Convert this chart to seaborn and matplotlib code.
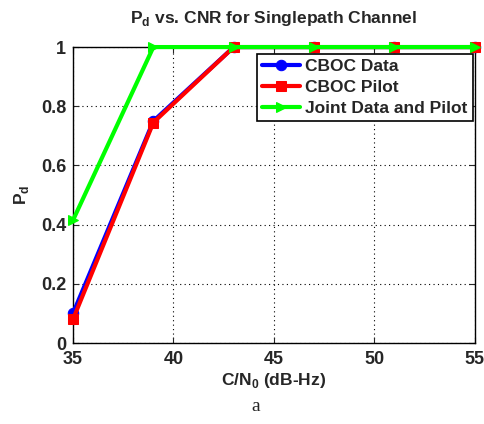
import matplotlib
matplotlib.use("Agg")
import matplotlib.pyplot as plt
import seaborn as sns
import pandas as pd

cnr = [35, 39, 43, 47, 51, 55]
cboc_data = [0.10, 0.75, 1.0, 1.0, 1.0, 1.0]
cboc_pilot = [0.08, 0.745, 1.0, 1.0, 1.0, 1.0]
joint = [0.415, 1.0, 1.0, 1.0, 1.0, 1.0]
series_names = ["CBOC Data", "CBOC Pilot", "Joint Data and Pilot"]
colors = ["#0000ff", "#ff0000", "#00ff00"]
markers = ["o", "s", ">"]
xticks = [35, 40, 45, 50, 55]
yticks = [0, 0.2, 0.4, 0.6, 0.8, 1]

sns.set_style("ticks")
plt.rcParams['font.family'] = ['Liberation Sans', 'DejaVu Sans']
plt.rcParams['mathtext.fontset'] = 'custom'
plt.rcParams['mathtext.bf'] = 'Liberation Sans:bold'
plt.rcParams['mathtext.rm'] = 'Liberation Sans'

df = pd.DataFrame({
    "x": cnr * 3,
    "y": cboc_data + cboc_pilot + joint,
    "s": [series_names[0]] * 6 + [series_names[1]] * 6 + [series_names[2]] * 6,
})

fig = plt.figure(figsize=(4.85, 4.24), dpi=100)
ax = fig.add_axes([0.1505, 0.191, 0.8285, 0.698])

for name, c, m in zip(series_names, colors, markers):
    sub = df[df["s"] == name]
    sns.lineplot(data=sub, x="x", y="y", ax=ax, color=c, marker=m,
                 markersize=7.5, markeredgecolor=c, linewidth=3, label=name,
                 clip_on=False, zorder=3)

ax.set_xlim(35, 55)
ax.set_ylim(0, 1)
ax.set_xticks(xticks)
ax.set_yticks(yticks)
ax.set_xticklabels([str(t) for t in xticks], fontsize=13, fontweight="bold")
ax.set_yticklabels(["0", "0.2", "0.4", "0.6", "0.8", "1"], fontsize=13, fontweight="bold")
ax.grid(True, linestyle=(0, (1, 3)), color="black", linewidth=0.8)
ax.tick_params(direction="in", length=4, width=0.8, top=True, right=True)
ax.tick_params(axis="x", pad=6)
ax.tick_params(axis="y", pad=5)
for sp in ax.spines.values():
    sp.set_visible(True)
    sp.set_color("black")
    sp.set_linewidth(1.0)

ax.set_title(r"P$_\mathbf{d}$ vs. CNR for Singlepath Channel", fontsize=12.5, fontweight="bold", pad=17)
ax.set_xlabel(r"C/N$_\mathbf{0}$ (dB-Hz)", fontsize=12.5, fontweight="bold", labelpad=2)
ax.set_ylabel(r"P$_\mathbf{d}$", fontsize=12.5, fontweight="bold", labelpad=7)

leg = ax.legend(loc="upper right", bbox_to_anchor=(0.995, 0.978),
                frameon=True, fancybox=False, edgecolor="black", framealpha=1,
                handlelength=2.2, borderpad=0.3, labelspacing=0.33, handletextpad=0.3,
                borderaxespad=0.0,
                prop={"weight": "bold", "size": 12.5})
leg.get_frame().set_linewidth(1.2)
leg.set_zorder(5)

fig.text(0.528, 0.042, "a", fontsize=14, family=["Liberation Serif"], ha="center", va="center")

fig.savefig("out.png", dpi=100)
